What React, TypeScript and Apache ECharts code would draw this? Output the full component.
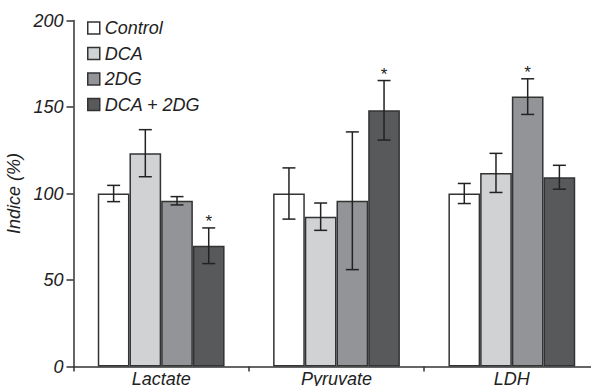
import React, { useEffect, useRef } from "react";
import * as echarts from "echarts";

const categories = ["Lactate", "Pyruvate", "LDH"];
const seriesNames = ["Control", "DCA", "2DG", "DCA + 2DG"];
const controlValues = [100, 100, 100];
const dcaValues = [123.3, 86.6, 111.9];
const dg2Values = [95.8, 95.8, 156];
const comboValues = [69.8, 148.1, 109.4];
const controlErrors = [4.7, 14.8, 5.8];
const dcaErrors = [13.6, 7.9, 11.3];
const dg2Errors = [2.4, 39.8, 10.3];
const comboErrors = [10.3, 17.2, 6.9];
const controlSig = [false, false, false];
const dcaSig = [false, false, false];
const dg2Sig = [false, false, true];
const comboSig = [true, true, false];
const yTicks = [0, 50, 100, 150, 200];

const colors = ["#ffffff", "#d1d2d4", "#939497", "#58595b"];
const FONT = "'Liberation Sans', Arial, sans-serif";
const BAR_W = 31.7;

export default function App() {
  const ref = useRef<HTMLDivElement>(null);
  useEffect(() => {
    if (!ref.current) return;
    const chart = echarts.init(ref.current, null, { renderer: "svg" });
    const values = [controlValues, dcaValues, dg2Values, comboValues];
    const errors = [controlErrors, dcaErrors, dg2Errors, comboErrors];
    const sigs = [controlSig, dcaSig, dg2Sig, comboSig];
    const errData: number[][] = [];
    values.forEach((vals, s) => {
      vals.forEach((v, c) => {
        errData.push([c, v, errors[s][c], s, sigs[s][c] ? 1 : 0]);
      });
    });
    const bars = seriesNames.map((name, s) => ({
      name,
      type: "bar",
      data: values[s],
      barWidth: BAR_W,
      barGap: "0%",
      z: 2,
      itemStyle: { color: colors[s], borderColor: "#333", borderWidth: 1.5 },
    }));
    chart.setOption({
      animation: false,
      grid: { left: 73.5, right: 0.5, top: 20.5, bottom: 19.5, outerBoundsMode: "none", containLabel: false },
      legend: {
        data: seriesNames,
        orient: "vertical",
        left: 87,
        top: 19,
        padding: 0,
        icon: "rect",
        itemWidth: 12,
        itemHeight: 12,
        itemGap: 7.5,
        itemStyle: { borderColor: "#333", borderWidth: 1.5 },
        textStyle: {
          fontFamily: FONT,
          fontStyle: "italic",
          fontSize: 18,
          lineHeight: 18,
          color: "#222",
        },
      },
      xAxis: {
        type: "category",
        data: categories,
        axisLine: { lineStyle: { color: "#333", width: 1.5 } },
        axisTick: { show: true, length: 5, lineStyle: { color: "#333", width: 1.5 } },
        axisLabel: {
          fontFamily: FONT,
          fontStyle: "italic",
          fontSize: 18,
          lineHeight: 18,
          color: "#222",
          margin: 3,
        },
      },
      yAxis: {
        type: "value",
        min: yTicks[0],
        max: yTicks[yTicks.length - 1],
        interval: yTicks[1] - yTicks[0],
        name: "Indice (%)",
        nameLocation: "middle",
        nameGap: 43,
        nameRotate: 90,
        nameTextStyle: {
          fontFamily: FONT,
          fontStyle: "italic",
          fontSize: 18,
          color: "#222",
        },
        axisLine: { show: true, lineStyle: { color: "#333", width: 1.5 } },
        axisTick: { show: true, length: 7, lineStyle: { color: "#333", width: 1.5 } },
        splitLine: { show: false },
        axisLabel: {
          fontFamily: FONT,
          fontStyle: "italic",
          fontSize: 18,
          color: "#222",
          margin: 10,
        },
      },
      series: [
        ...bars,
        {
          type: "custom",
          z: 5,
          data: errData,
          encode: { x: 0, y: 1 },
          renderItem: (params: any, api: any) => {
            const c = api.value(0);
            const v = api.value(1);
            const e = api.value(2);
            const s = api.value(3);
            const sig = api.value(4);
            const top = api.coord([c, v + e]);
            const bot = api.coord([c, v - e]);
            const x = top[0] + (s - 1.5) * BAR_W;
            const half = 6.5;
            const st = { stroke: "#222", lineWidth: 1.5 };
            const children: any[] = [
              { type: "line", shape: { x1: x, y1: top[1], x2: x, y2: bot[1] }, style: st },
              { type: "line", shape: { x1: x - half, y1: top[1], x2: x + half, y2: top[1] }, style: st },
              { type: "line", shape: { x1: x - half, y1: bot[1], x2: x + half, y2: bot[1] }, style: st },
            ];
            if (sig) {
              children.push({
                type: "text",
                style: {
                  text: "*",
                  x,
                  y: top[1] + 2,
                  align: "center",
                  verticalAlign: "bottom",
                  fontFamily: FONT,
                  fontSize: 17,
                  fill: "#222",
                },
              });
            }
            return { type: "group", children };
          },
        },
      ],
    });
    return () => chart.dispose();
  }, []);
  return (
    <div style={{ position: "fixed", left: 0, top: 0, width: 591, height: 386, overflow: "hidden", background: "#fff" }}>
      <div ref={ref} style={{ width: 600, height: 386 }} />
    </div>
  );
}
